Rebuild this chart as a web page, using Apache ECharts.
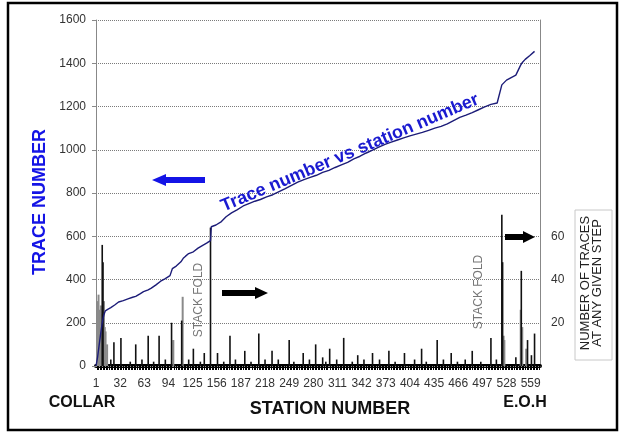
<!DOCTYPE html>
<html><head><meta charset="utf-8">
<script src="https://cdn.jsdelivr.net/npm/echarts@6/dist/echarts.min.js"></script>
<style>html,body{margin:0;padding:0;background:#fff}#c{width:621px;height:432px}</style>
</head><body><div id="c"></div>
<script>
// x tick labels (station numbers)
const stationTicks = [1,32,63,94,125,156,187,218,249,280,311,342,373,404,435,466,497,528,559];
// right axis labels shown
const foldTicks = [20,40,60];
// Trace number vs station number (left axis)
const traceStations = [1,3,5,7,9,11,13,16,20,25,30,36,42,48,52,58,62,68,72,78,84,90,96,98,99,104,110,113,116,120,126,132,138,143,148,149,155,162,168,175,182,190,198,205,212,220,228,236,244,252,260,268,276,284,292,300,308,316,324,332,340,348,356,364,372,380,388,396,404,412,420,428,436,444,452,460,468,476,484,492,500,508,516,522,523,528,534,540,546,548,552,558,564,571];
const traceValues   = [0,40,95,150,200,235,255,262,270,282,296,302,310,318,322,335,344,352,360,375,392,404,418,422,450,462,482,498,508,520,528,545,558,568,580,644,652,668,690,708,722,740,752,762,770,782,792,806,820,835,850,862,872,882,895,905,918,930,942,958,970,985,998,1012,1025,1035,1045,1055,1064,1072,1080,1090,1100,1108,1120,1135,1150,1160,1172,1185,1198,1210,1216,1300,1308,1322,1334,1345,1390,1402,1418,1436,1455];
// Number of traces at any given step (right axis) - dark spikes
const foldStations = [9,10,20,24,33,45,52,60,68,75,82,90,98,111,120,126,135,140,148,157,165,173,180,192,200,210,218,227,235,249,255,267,275,283,292,296,301,310,319,330,337,345,356,365,377,385,397,410,419,425,439,447,457,465,475,484,495,508,515,522,523,540,547,555,560,564];
const foldCounts   = [56,48,3,11,13,2,10,3,14,2,14,3,20,21,3,8,2,6,64,6,2,14,3,7,2,15,3,7,3,12,2,6,3,10,4,2,8,3,13,2,5,3,6,3,7,2,6,3,8,2,12,3,6,2,3,7,2,13,3,70,48,4,44,12,5,15];
// lighter spikes
const lightStations = [2,3,4,5,6,7,8,11,12,13,15,100,112,524,525,546,548,553];
const lightCounts   = [20,30,33,26,22,28,24,30,18,16,10,12,32,14,12,26,18,8];

const FONT = 'Arial, "Liberation Sans", sans-serif';
const pair = (a,b)=>a.map((v,i)=>[v,b[i]]);

const chart = echarts.init(document.getElementById('c'));
const L = 96, R = 540, T = 20, B = 366;
chart.setOption({
  animation:false,
  backgroundColor:'#fff',
  grid:{left:L, right:621-R, top:T, bottom:432-B},
  xAxis:[{
    type:'value', min:1, max:571, position:'bottom',
    axisLine:{show:true, lineStyle:{color:'#000', width:4}},
    axisTick:{show:false},
    minorTick:{show:true, splitNumber:50, length:4, lineStyle:{color:'#000', width:1}},
    axisLabel:{customValues:stationTicks, margin:12, color:'#333', fontSize:12, fontFamily:FONT},
    splitLine:{show:false}, minorSplitLine:{show:false}
  },{
    type:'value', min:1, max:571, position:'top',
    axisLine:{show:true, lineStyle:{color:'#888', width:1}},
    axisTick:{show:false}, axisLabel:{show:false}, splitLine:{show:false}
  }],
  yAxis:[{
    type:'value', min:0, max:1600, interval:200, position:'left',
    axisLine:{show:true, lineStyle:{color:'#888', width:1}},
    axisTick:{show:true, length:4, lineStyle:{color:'#888'}},
    axisLabel:{margin:10, color:'#333', fontSize:12, fontFamily:FONT, formatter:(v)=>String(v)},
    splitLine:{show:true, lineStyle:{color:'#7a7a7a', type:'dotted', width:1, opacity:1}}
  },{
    type:'value', min:0, max:160, interval:20, position:'right',
    axisLine:{show:true, lineStyle:{color:'#888', width:1}},
    axisTick:{show:false},
    axisLabel:{customValues:foldTicks, margin:11, color:'#333', fontSize:12, fontFamily:FONT},
    splitLine:{show:false}
  }],
  series:[{
    type:'bar', yAxisIndex:1, data:pair(lightStations, lightCounts),
    barWidth:2, barGap:'-100%', itemStyle:{color:'#8a8a8a'}, z:2
  },{
    type:'bar', yAxisIndex:1, data:pair(foldStations, foldCounts),
    barWidth:1.6, barGap:'-100%', itemStyle:{color:'#111'}, z:3
  },{
    type:'line', yAxisIndex:0, data:pair(traceStations, traceValues),
    showSymbol:false, lineStyle:{color:'#1c1c78', width:1.4}, z:5
  }],
  graphic:[
    {type:'rect', z:100, shape:{x:8, y:3, width:609, height:427}, style:{fill:'none', stroke:'#000', lineWidth:2.5}, silent:true},
    {type:'rect', z:100, shape:{x:575, y:210, width:37, height:150}, style:{fill:'none', stroke:'#c8c8c8', lineWidth:1}},
    {type:'text', z:100, x:40, y:202, rotation:Math.PI/2, style:{text:'TRACE NUMBER', fill:'#1414e6', font:'bold 18px '+FONT, align:'center', verticalAlign:'middle'}},
    {type:'text', z:100, x:330, y:409, style:{text:'STATION NUMBER', fill:'#111', font:'bold 18px '+FONT, align:'center', verticalAlign:'middle'}},
    {type:'text', z:100, x:82, y:403, style:{text:'COLLAR', fill:'#111', font:'bold 16px '+FONT, align:'center', verticalAlign:'middle'}},
    {type:'text', z:100, x:525, y:403, style:{text:'E.O.H', fill:'#111', font:'bold 16px '+FONT, align:'center', verticalAlign:'middle'}},
    {type:'text', z:100, x:591, y:283, rotation:Math.PI/2, style:{text:'NUMBER OF TRACES\nAT ANY GIVEN STEP', fill:'#222', font:'13px '+FONT, align:'center', verticalAlign:'middle', lineHeight:12}},
    {type:'text', z:100, x:350, y:153, rotation:0.40, style:{text:'Trace number vs station number', fill:'#1a1ad0', font:'bold 18px '+FONT, align:'center', verticalAlign:'middle'}},
    {type:'text', z:100, x:199, y:300, rotation:Math.PI/2, style:{text:'STACK FOLD', fill:'#777', font:'12px '+FONT, align:'center', verticalAlign:'middle'}},
    {type:'text', z:100, x:479, y:292, rotation:Math.PI/2, style:{text:'STACK FOLD', fill:'#777', font:'12px '+FONT, align:'center', verticalAlign:'middle'}},
    {type:'polygon', z:100, shape:{points:[[152,180],[166,174],[166,177],[205,177],[205,183],[166,183],[166,186]]}, style:{fill:'#1414e6'}},
    {type:'polygon', z:100, shape:{points:[[268,293],[255,287],[255,290],[222,290],[222,296],[255,296],[255,299]]}, style:{fill:'#000'}},
    {type:'polygon', z:100, shape:{points:[[535,237],[523,231],[523,234],[505,234],[505,240],[523,240],[523,243]]}, style:{fill:'#000'}}
  ]
});
</script></body></html>
